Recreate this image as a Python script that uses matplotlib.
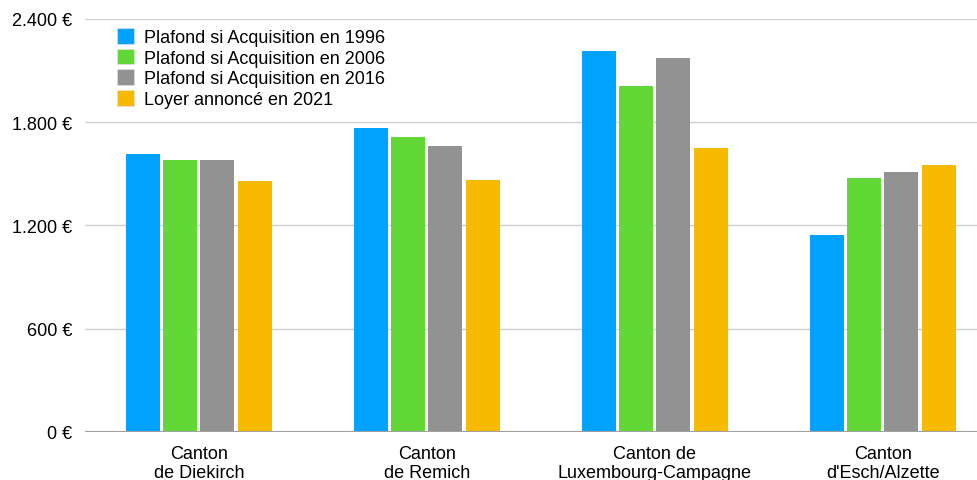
import matplotlib.pyplot as plt
from matplotlib.patches import Patch
from matplotlib.ticker import FuncFormatter
import numpy as np

plt.rcParams['font.family'] = ['Liberation Sans', 'DejaVu Sans']

cantons = ["Canton\nde Diekirch", "Canton\nde Remich",
           "Canton de\nLuxembourg-Campagne", "Canton\nd'Esch/Alzette"]
series_names = ["Plafond si Acquisition en 1996", "Plafond si Acquisition en 2006",
                "Plafond si Acquisition en 2016", "Loyer annoncé en 2021"]
plafond_1996 = [1613, 1767, 2212, 1142]
plafond_2006 = [1578, 1714, 2012, 1477]
plafond_2016 = [1582, 1660, 2171, 1508]
loyer_2021 = [1456, 1462, 1651, 1551]
colors = ["#00A2FF", "#61D836", "#929292", "#F8BA00"]

fig = plt.figure(figsize=(9.77, 4.81), dpi=100)
ax = fig.add_axes([85 / 977, 48.3 / 481, 892 / 977, 412.7 / 481])

x = np.arange(len(cantons))
step = 0.1636
width = 0.149
all_series = [plafond_1996, plafond_2006, plafond_2016, loyer_2021]
for i, (vals, col) in enumerate(zip(all_series, colors)):
    ax.bar(x + (i - 1.5) * step, vals, width, color=col, zorder=3)

ax.set_ylim(0, 2400)
ax.set_xlim(-0.499, 3.413)
ax.set_yticks([0, 600, 1200, 1800, 2400])
ax.yaxis.set_major_formatter(FuncFormatter(
    lambda v, p: "{:,.0f} €".format(v).replace(",", ".")))
ax.grid(axis='y', color='#cfcfcf', linewidth=1, zorder=0)
ax.axhline(0, color='#a0a0a0', linewidth=1.5, zorder=4)
for s in ax.spines.values():
    s.set_visible(False)
ax.tick_params(axis='y', length=0, pad=9, labelsize=13)
ax.tick_params(axis='x', length=0, pad=9.5, labelsize=13)
ax.set_xticks(x)
ax.set_xticklabels(cantons, linespacing=1.2)

handles = [Patch(facecolor=c, edgecolor='#e0e0e0', linewidth=0.5) for c in colors]
ax.legend(handles, series_names, loc='upper left',
          bbox_to_anchor=(117 / 977, 1 - 29 / 481), bbox_transform=fig.transFigure,
          frameon=False, fontsize=13, handlelength=0.95, handleheight=0.95,
          handletextpad=0.55, labelspacing=0.15, borderpad=0, borderaxespad=0)

fig.savefig("out.png", dpi=100)
